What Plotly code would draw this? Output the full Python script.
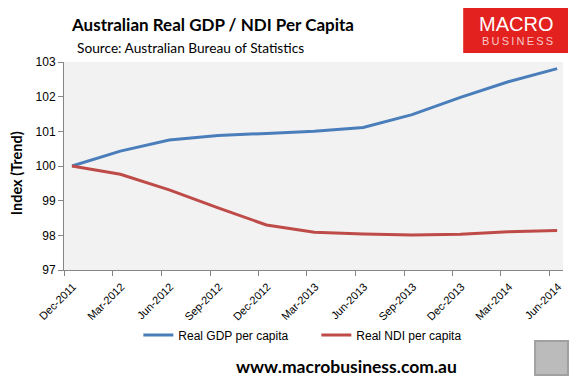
import plotly.graph_objects as go

dates = ["2011-12-16", "2012-03-16", "2012-06-16", "2012-09-16", "2012-12-16",
         "2013-03-16", "2013-06-16", "2013-09-16", "2013-12-16", "2014-03-16", "2014-06-16"]
gdp = [100.0, 100.43, 100.75, 100.88, 100.94, 101.0, 101.11, 101.48, 101.98, 102.43, 102.81]
ndi = [100.0, 99.76, 99.31, 98.79, 98.30, 98.09, 98.04, 98.01, 98.03, 98.10, 98.14]
tick_dates = ["2011-12-01", "2012-03-01", "2012-06-01", "2012-09-01", "2012-12-01",
              "2013-03-01", "2013-06-01", "2013-09-01", "2013-12-01", "2014-03-01", "2014-06-01"]
tick_labels = ["Dec-2011", "Mar-2012", "Jun-2012", "Sep-2012", "Dec-2012", "Mar-2013",
               "Jun-2013", "Sep-2013", "Dec-2013", "Mar-2014", "Jun-2014"]

fig = go.Figure()
fig.add_trace(go.Scatter(x=dates, y=gdp, mode="lines", name="Real GDP per capita",
                         line=dict(color="#4A7EBB", width=3)))
fig.add_trace(go.Scatter(x=dates, y=ndi, mode="lines", name="Real NDI per capita",
                         line=dict(color="#BE4B48", width=3)))

axis_col = "#868686"
fig.update_layout(
    width=575, height=377,
    margin=dict(l=56, r=20, t=54, b=115),
    paper_bgcolor="white", plot_bgcolor="#F2F2F2",
    showlegend=True,
    legend=dict(orientation="h", x=0.149, y=-0.3125, xanchor="left", yanchor="middle",
                font=dict(family="Liberation Sans", size=12, color="black"),
                entrywidth=133, entrywidthmode="pixels", itemwidth=30),
    xaxis=dict(type="date", range=["2011-12-01", "2014-06-27"],
               tickvals=tick_dates, ticktext=tick_labels, tickangle=-45,
               showgrid=False, zeroline=False, showline=True, linecolor=axis_col, linewidth=1,
               ticks="outside", ticklen=5, tickcolor=axis_col, ticklabelshift=9,
               tickfont=dict(family="Liberation Sans", size=11, color="black")),
    yaxis=dict(range=[97, 103], dtick=1, showgrid=False, zeroline=False,
               showline=True, linecolor=axis_col, linewidth=1,
               ticks="outside", ticklen=5, tickcolor=axis_col,
               tickfont=dict(family="Liberation Sans", size=12, color="black")),
)

annots = [
    dict(text="<b>Australian Real GDP / NDI Per Capita</b>", x=0.01, y=1.178,
         xanchor="left", yanchor="middle", font=dict(family="Lato", size=17, color="black")),
    dict(text="Source: Australian Bureau of Statistics", x=0.022, y=1.072,
         xanchor="left", yanchor="middle", font=dict(family="Lato", size=13.7, color="black")),
    dict(text="<b>Index (Trend)</b>", x=-0.096, y=0.466, textangle=-90,
         xanchor="center", yanchor="middle", font=dict(family="Lato", size=14.5, color="black")),
    dict(text="<b>www.macrobusiness.com.au</b>", x=0.567, y=-0.466,
         xanchor="center", yanchor="middle", font=dict(family="Lato", size=17.5, color="black")),
    dict(text="MACRO", x=0.906, y=1.1827, xanchor="center", yanchor="middle",
         font=dict(family="Liberation Sans", size=20, color="white")),
    dict(text="B\u2009U\u2009S\u2009I\u2009N\u2009E\u2009S\u2009S", x=0.908, y=1.0986,
         xanchor="center", yanchor="middle",
         font=dict(family="Liberation Sans", size=11, color="#F8C8C8")),
]

fig.add_shape(type="rect", xref="paper", yref="paper", x0=0.800, x1=1.010, y0=1.043, y1=1.26,
              fillcolor="#E3211F", line=dict(width=0), layer="below")
fig.add_shape(type="rect", xref="paper", yref="paper", x0=0.944, x1=1.010, y0=-0.505, y1=-0.341,
              fillcolor="#BBBBBB", line=dict(color="#A0A0A0", width=2), layer="above")

for a in annots:
    a.update(xref="paper", yref="paper", showarrow=False)
    fig.add_annotation(**a)

fig.write_html("out.html")
